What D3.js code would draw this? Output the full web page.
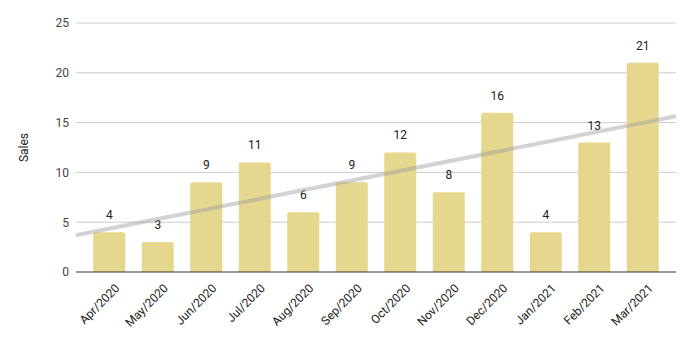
<!DOCTYPE html>
<html>
<head>
<meta charset="utf-8">
<script src="https://cdn.jsdelivr.net/npm/d3@7"></script>
<style>
  body { margin: 0; background: #fff; }
  svg { font-family: Roboto, Arial, sans-serif; }
</style>
</head>
<body>
<svg id="canvas" width="693" height="338"></svg>
<script>
let months = ['Apr/2020', 'May/2020', 'Jun/2020', 'Jul/2020', 'Aug/2020', 'Sep/2020',
  'Oct/2020', 'Nov/2020', 'Dec/2020', 'Jan/2021', 'Feb/2021', 'Mar/2021']
let sales = [4, 3, 9, 11, 6, 9, 12, 8, 16, 4, 13, 21]
let yTicks = [0, 5, 10, 15, 20, 25]

let canvas = d3.select('#canvas')

let plotLeft = 76, plotRight = 676, plotTop = 23, plotBottom = 272

let x = d3.scaleBand()
  .domain(months)
  .range([85, 667])
  .paddingInner(0.34)
  .paddingOuter(0.17)

let y = d3.scaleLinear().domain([0, 25]).range([plotBottom, plotTop])

// gridlines
canvas.append('g')
  .selectAll('line')
  .data(yTicks.filter(d => d > 0))
  .enter()
  .append('line')
  .attr('x1', plotLeft)
  .attr('x2', plotRight)
  .attr('y1', d => y(d))
  .attr('y2', d => y(d))
  .attr('stroke', '#cccccc')
  .attr('stroke-width', 1)

// y axis labels
let yAxis = d3.axisLeft(y).tickValues(yTicks).tickSize(0).tickPadding(7)
canvas.append('g')
  .attr('transform', `translate(${plotLeft},0)`)
  .call(yAxis)
  .call(g => g.select('.domain').remove())
  .selectAll('text')
  .attr('font-size', 12)
  .attr('font-family', 'Roboto, Arial, sans-serif')
  .attr('fill', '#444')

// bars with slightly rounded tops
let barPath = (d, i) => {
  let x0 = x(months[i]), w = x.bandwidth()
  let y0 = y(d), r = 2
  return `M${x0},${plotBottom} V${y0 + r} Q${x0},${y0} ${x0 + r},${y0} H${x0 + w - r} Q${x0 + w},${y0} ${x0 + w},${y0 + r} V${plotBottom} Z`
}

canvas.append('g')
  .selectAll('path')
  .data(sales)
  .enter()
  .append('path')
  .attr('d', barPath)
  .attr('fill', '#e6d78e')

// value labels
canvas.append('g')
  .selectAll('text')
  .data(sales)
  .enter()
  .append('text')
  .attr('x', (d, i) => x(months[i]) + x.bandwidth() / 2)
  .attr('y', d => y(d) - 13)
  .attr('text-anchor', 'middle')
  .attr('font-size', 12)
  .attr('fill', '#222')
  .text(d => d)

// linear trendline
let n = sales.length
let meanX = d3.mean(sales, (d, i) => i)
let meanY = d3.mean(sales)
let sxy = d3.sum(sales, (d, i) => (i - meanX) * (d - meanY))
let sxx = d3.sum(sales, (d, i) => (i - meanX) * (i - meanX))
let slope = sxy / sxx
let intercept = meanY - slope * meanX
let idx = d3.scaleLinear()
  .domain([x(months[0]) + x.bandwidth() / 2, x(months[n - 1]) + x.bandwidth() / 2])
  .range([0, n - 1])
let trendY = px => y(intercept + slope * idx(px))

canvas.append('line')
  .attr('x1', plotLeft)
  .attr('x2', plotRight)
  .attr('y1', trendY(plotLeft))
  .attr('y2', trendY(plotRight))
  .attr('stroke', '#9e9e9e')
  .attr('stroke-opacity', 0.45)
  .attr('stroke-width', 4)

// baseline
canvas.append('line')
  .attr('x1', plotLeft)
  .attr('x2', plotRight)
  .attr('y1', plotBottom)
  .attr('y2', plotBottom)
  .attr('stroke', '#333')
  .attr('stroke-width', 1)

// x labels
canvas.append('g')
  .selectAll('text')
  .data(months)
  .enter()
  .append('text')
  .attr('transform', d => `translate(${x(d) + x.bandwidth() / 2 + 5},${plotBottom + 11}) rotate(-45)`)
  .attr('text-anchor', 'end')
  .attr('dy', '0.71em')
  .attr('font-size', 12)
  .attr('fill', '#222')
  .text(d => d)

// y axis title
canvas.append('text')
  .attr('transform', `translate(28,${(plotTop + plotBottom) / 2}) rotate(-90)`)
  .attr('text-anchor', 'middle')
  .attr('font-size', 12)
  .attr('fill', '#222')
  .text('Sales')
</script>
</body>
</html>
